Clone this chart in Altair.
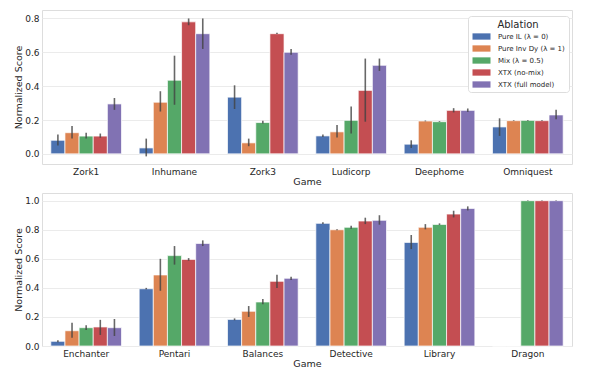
import altair as alt
import pandas as pd

models = ["Pure IL (λ = 0)", "Pure Inv Dy (λ = 1)", "Mix (λ = 0.5)", "XTX (no-mix)", "XTX (full model)"]
colors = ["#4C72B0", "#DD8452", "#55A868", "#C44E52", "#8172B3"]

games_top = ["Zork1", "Inhumane", "Zork3", "Ludicorp", "Deephome", "Omniquest"]
games_bottom = ["Enchanter", "Pentari", "Balances", "Detective", "Library", "Dragon"]

# mean values per model (top panel)
top_mean = [
    [0.080, 0.035, 0.335, 0.106, 0.057, 0.159],
    [0.125, 0.305, 0.065, 0.130, 0.194, 0.196],
    [0.105, 0.435, 0.185, 0.198, 0.190, 0.198],
    [0.105, 0.780, 0.710, 0.375, 0.257, 0.196],
    [0.295, 0.710, 0.600, 0.523, 0.257, 0.230],
]
top_lo = [
    [0.050, -0.015, 0.265, 0.100, 0.035, 0.106],
    [0.090, 0.250, 0.045, 0.096, 0.192, 0.194],
    [0.090, 0.290, 0.180, 0.120, 0.188, 0.196],
    [0.095, 0.760, 0.708, 0.190, 0.245, 0.194],
    [0.260, 0.620, 0.585, 0.490, 0.248, 0.204],
]
top_hi = [
    [0.115, 0.090, 0.405, 0.115, 0.080, 0.210],
    [0.165, 0.370, 0.090, 0.170, 0.197, 0.198],
    [0.125, 0.580, 0.195, 0.280, 0.193, 0.200],
    [0.120, 0.800, 0.715, 0.563, 0.270, 0.198],
    [0.330, 0.800, 0.620, 0.563, 0.268, 0.260],
]

bottom_mean = [
    [0.032, 0.394, 0.183, 0.844, 0.713, 0.0],
    [0.105, 0.489, 0.239, 0.800, 0.817, 0.0],
    [0.126, 0.622, 0.303, 0.817, 0.837, 1.0],
    [0.131, 0.596, 0.445, 0.860, 0.908, 1.0],
    [0.126, 0.706, 0.466, 0.865, 0.947, 1.0],
]
bottom_lo = [
    [0.025, 0.390, 0.177, 0.839, 0.667, 0.0],
    [0.057, 0.380, 0.200, 0.797, 0.803, 0.0],
    [0.110, 0.560, 0.287, 0.807, 0.833, 0.998],
    [0.076, 0.587, 0.400, 0.839, 0.885, 0.998],
    [0.069, 0.688, 0.454, 0.835, 0.933, 0.998],
]
bottom_hi = [
    [0.040, 0.400, 0.190, 0.851, 0.764, 0.0],
    [0.160, 0.600, 0.275, 0.803, 0.839, 0.0],
    [0.142, 0.688, 0.323, 0.828, 0.844, 1.002],
    [0.180, 0.605, 0.490, 0.883, 0.931, 1.002],
    [0.186, 0.727, 0.477, 0.900, 0.961, 1.002],
]


def make_df(games, mean, lo, hi):
    rows = []
    for mi, m in enumerate(models):
        for gi, g in enumerate(games):
            rows.append({"game": g, "model": m, "mean": mean[mi][gi],
                         "lo": lo[mi][gi], "hi": hi[mi][gi]})
    return pd.DataFrame(rows)


FONT = "DejaVu Sans"
TXT = "#262626"


def panel(df, games, domain, ticks, height, legend):
    x = alt.X("game:N", sort=games, title="Game",
              scale=alt.Scale(paddingInner=0.2, paddingOuter=0.1),
              axis=alt.Axis(labelAngle=0, labelFontSize=9, titleFontSize=9.5,
                            labelPadding=3, titlePadding=0, ticks=False,
                            domain=False, grid=False, labelColor=TXT,
                            titleColor=TXT, labelFont=FONT, titleFont=FONT,
                            titleFontWeight="normal"))
    xo = alt.XOffset("model:N", sort=models,
                     scale=alt.Scale(paddingInner=0, paddingOuter=0))
    y = alt.Y("mean:Q", title="Normalized Score",
              scale=alt.Scale(domain=domain, nice=False),
              axis=alt.Axis(values=ticks, tickCount=len(ticks) + 2,
                            format=".1f", labelFontSize=9,
                            titleFontSize=9.5, ticks=False, domain=False,
                            labelPadding=3, titlePadding=1,
                            gridColor="#ebebeb", gridWidth=1,
                            labelColor=TXT, titleColor=TXT, labelFont=FONT,
                            titleFont=FONT, titleFontWeight="normal"))
    color = alt.Color("model:N", sort=models,
                      scale=alt.Scale(domain=models, range=colors),
                      legend=legend)
    bars = alt.Chart(df).mark_bar(stroke="white", strokeWidth=1,
                                  strokeOpacity=0.7).encode(
        x=x, xOffset=xo, y=y, y2=alt.datum(0), color=color)
    errs = alt.Chart(df).mark_rule(color="#424242", strokeWidth=1.6,
                                   opacity=0.8).encode(
        x=x, xOffset=xo, y=alt.Y("lo:Q"), y2="hi:Q")
    return alt.layer(bars, errs).properties(width=530, height=height)


legend = alt.Legend(title="Ablation", orient="none", legendX=426, legendY=6,
                    fillColor="white", strokeColor="#dddddd", padding=4,
                    cornerRadius=3, titleFontSize=10, titleFontWeight="normal",
                    titleFont=FONT, labelFont=FONT, titleColor=TXT,
                    labelColor=TXT, labelFontSize=7, titleAnchor="middle",
                    symbolType="M-3,-1.05L3,-1.05L3,1.05L-3,1.05Z",
                    symbolSize=36, symbolStrokeWidth=0, symbolOffset=6,
                    rowPadding=4, labelOffset=13, titlePadding=3)

top = panel(make_df(games_top, top_mean, top_lo, top_hi), games_top,
            [-0.06, 0.85], [0.0, 0.2, 0.4, 0.6, 0.8], 154, legend)
bottom = panel(make_df(games_bottom, bottom_mean, bottom_lo, bottom_hi),
               games_bottom, [0.0, 1.053], [0.0, 0.2, 0.4, 0.6, 0.8, 1.0],
               153, None)

chart = alt.vconcat(top, bottom, spacing=6).resolve_legend(
    color="independent").properties(
    padding={"left": 5, "top": 1, "right": 5, "bottom": 5},
    background="white",
).configure_view(stroke="#dddddd", strokeWidth=1)

chart.save("out.html", embed_options={"renderer": "svg", "actions": False})
